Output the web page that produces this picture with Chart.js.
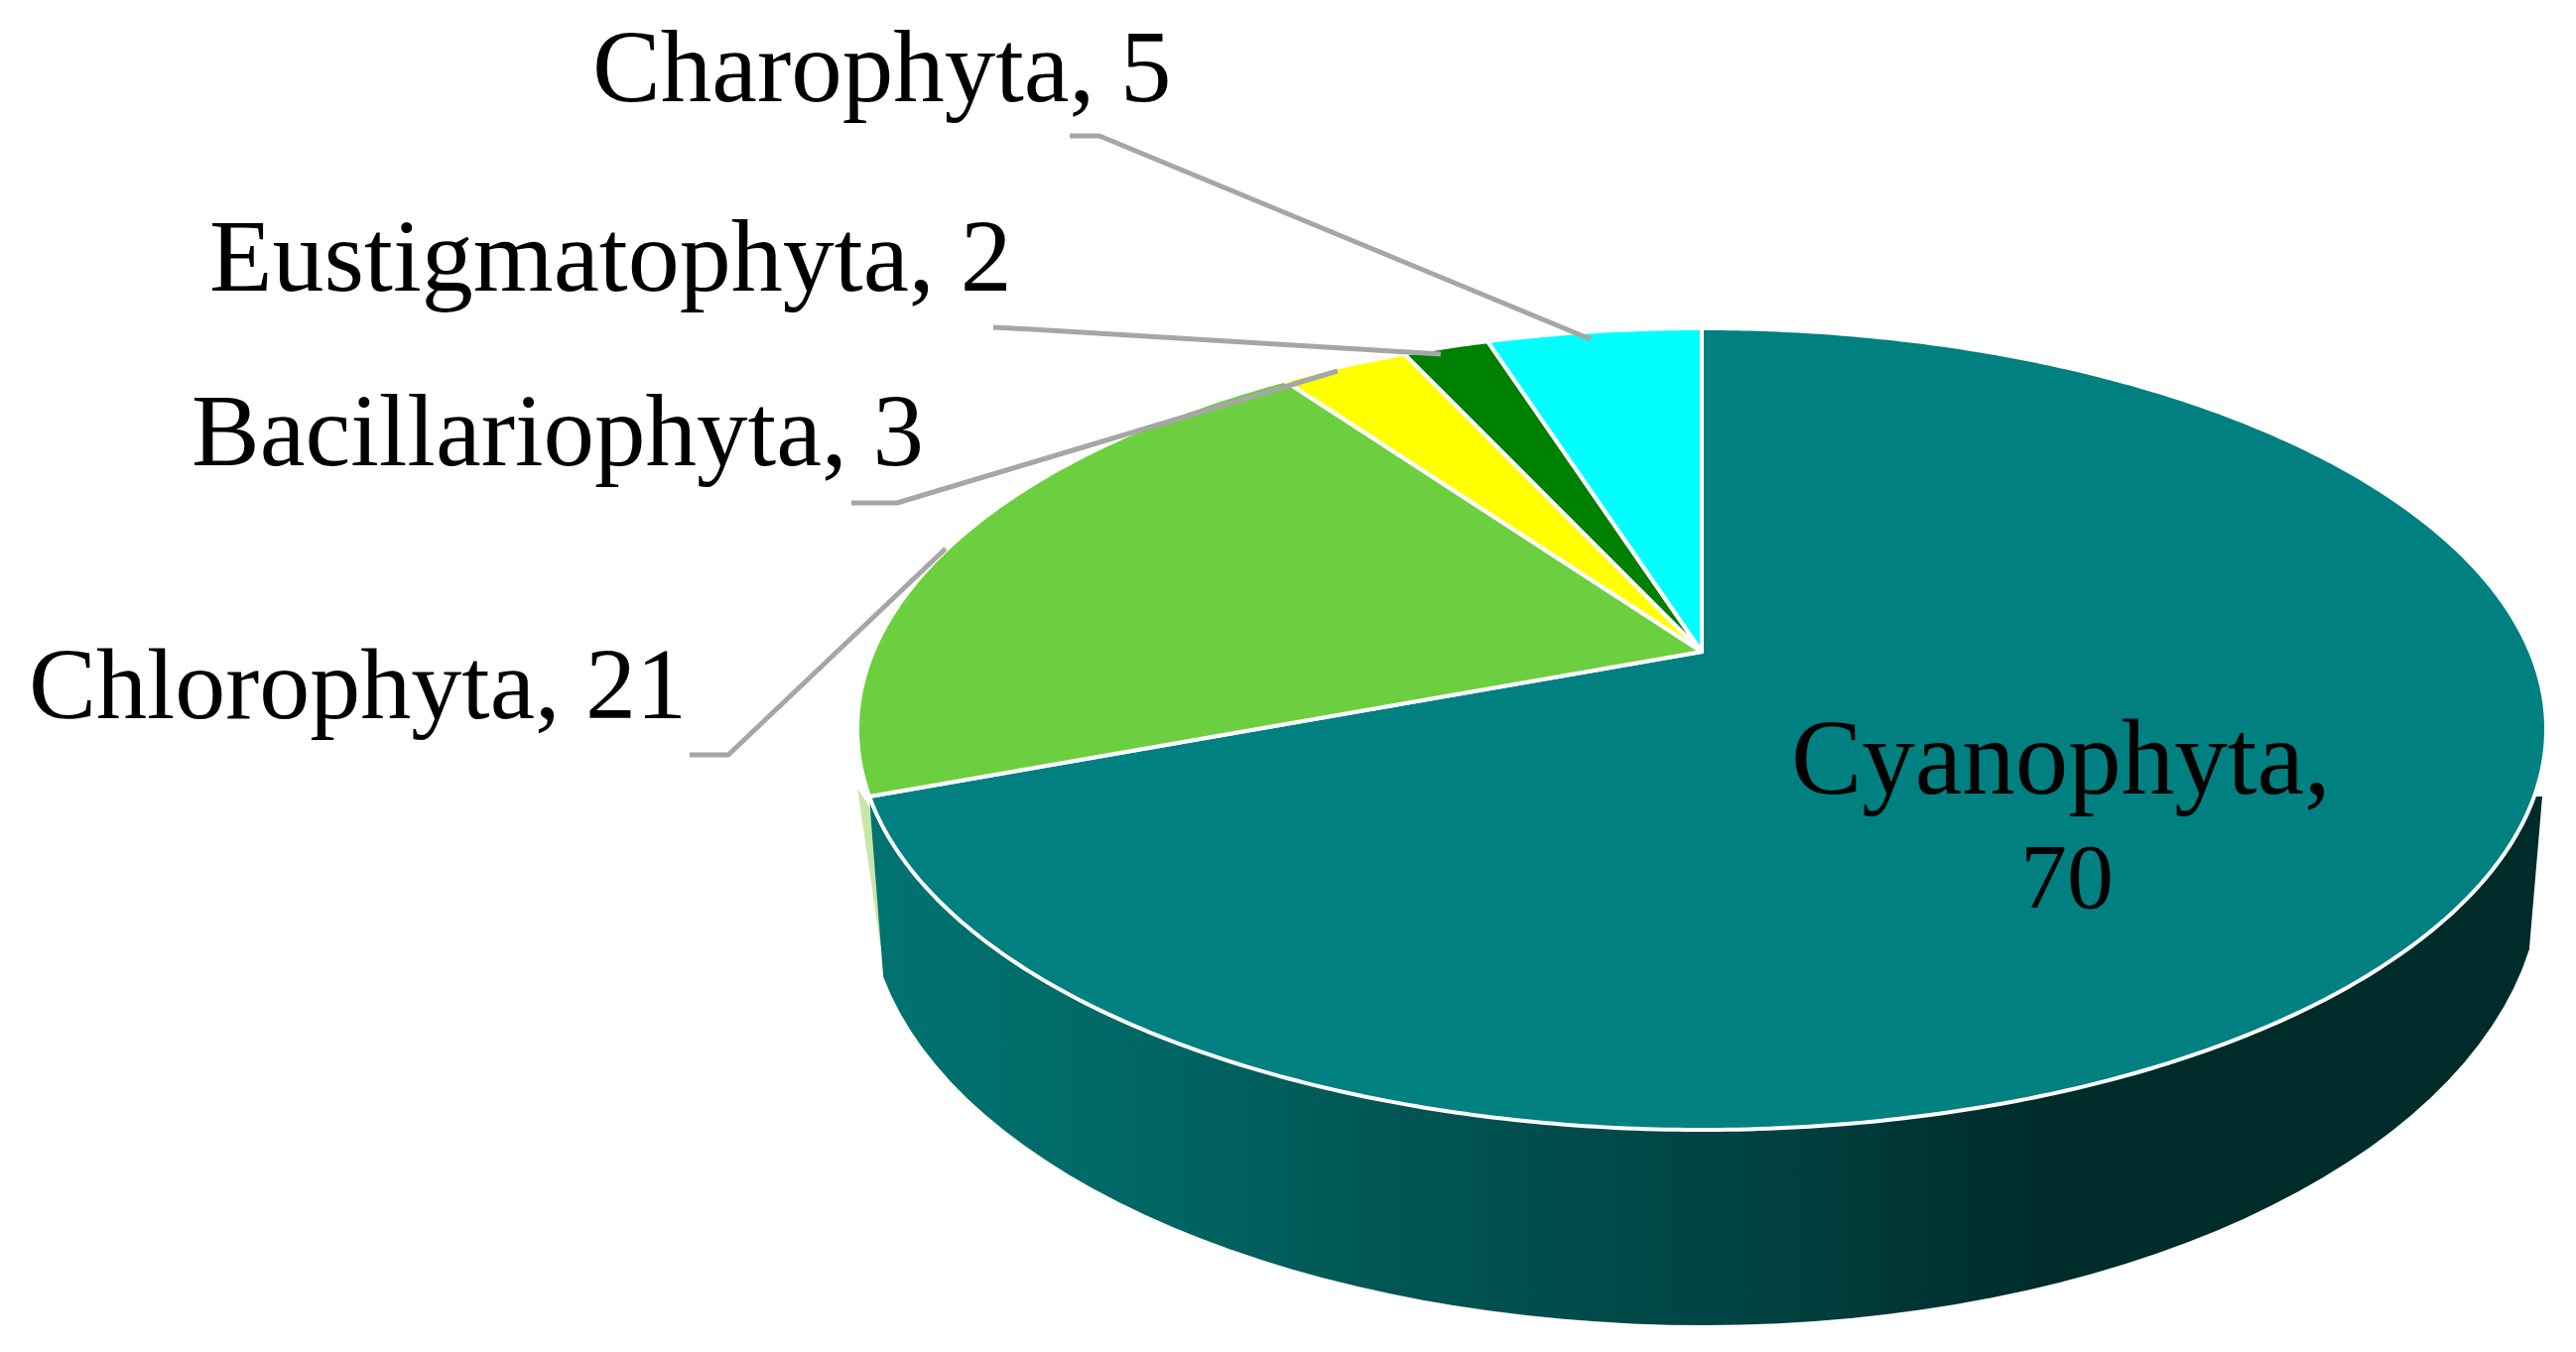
<!DOCTYPE html>
<html>
<head>
<meta charset="utf-8">
<title>Phyla</title>
<script src="https://cdn.jsdelivr.net/npm/chart.js@4"></script>
<style>
  html, body { margin: 0; padding: 0; background: #fff; }
  canvas { display: block; }
</style>
</head>
<body>
<canvas id="pie" width="2596" height="1363"></canvas>
<script>
const categories = ["Cyanophyta", "Chlorophyta", "Bacillariophyta", "Eustigmatophyta", "Charophyta"];
const seriesValues = [70, 21, 3, 2, 5];
const sliceColors = ["#008080", "#6ccf3f", "#ffff00", "#008000", "#00ffff"];

// where each label text sits, [x, baseline], and its size
const labelSpots = [[1805, 800], [29, 724], [193, 469], [211, 293], [597, 102]];
const labelSizes = [107, 102, 103, 104, 103];
// leader lines, [start, elbow, tip]; the big slice has none
const leaderLines = [
  null,
  [[695, 761], [734, 761], [953, 553]],
  [[858, 507], [904, 507], [1348, 374]],
  [[1001, 330], [1040, 332], [1452, 357]],
  [[1078, 137], [1108, 137], [1603, 342]]
];

// the flat pie seen in perspective: apex is off the ellipse centre like in the picture
const TILT_X = 835, TILT_Y = 389, TILT_K = 0.193;

function project(arc, angle) {
  const u = Math.cos(angle), v = -Math.sin(angle);
  const w = 1 + TILT_K * v;
  return [arc.x + TILT_X * u / w, arc.y - TILT_Y * v / w];
}

// arcs keep the angles worked out by the doughnut controller, only the outline is projected
Chart.ArcElement.prototype.draw = function (ctx) {
  const o = this.options;
  const steps = Math.max(2, Math.ceil((this.endAngle - this.startAngle) / 0.01));
  ctx.save();
  ctx.beginPath();
  ctx.moveTo(this.x, this.y);
  for (let i = 0; i <= steps; i++) {
    const p = project(this, this.startAngle + (this.endAngle - this.startAngle) * i / steps);
    ctx.lineTo(p[0], p[1]);
  }
  ctx.closePath();
  ctx.fillStyle = o.backgroundColor;
  ctx.fill();
  ctx.lineJoin = "round";
  ctx.lineWidth = o.borderWidth;
  ctx.strokeStyle = o.borderColor;
  ctx.stroke();
  ctx.restore();
};

const sideWall = {
  id: "sideWall",
  beforeDatasetsDraw(chart) {
    const ctx = chart.ctx;
    const arcs = chart.getDatasetMeta(0).data;
    const cut = project(arcs[0], arcs[0].endAngle);
    const cx = 1718, rx = 843;

    // thin pale edge of the neighbour slice showing behind the wall
    ctx.save();
    ctx.beginPath();
    ctx.moveTo(cut[0] - 12, cut[1] - 8);
    ctx.lineTo(cut[0] + 6, cut[1] + 20);
    ctx.lineTo(cut[0] + 18, cut[1] + 155);
    ctx.lineTo(cut[0] + 11, cut[1] + 150);
    ctx.closePath();
    ctx.fillStyle = "#c8e6a8";
    ctx.fill();

    const g = ctx.createLinearGradient(875, 0, 2566, 0);
    g.addColorStop(0, "#007371");
    g.addColorStop(0.13, "#006a68");
    g.addColorStop(0.31, "#005654");
    g.addColorStop(0.55, "#00403f");
    g.addColorStop(0.70, "#002b2b");
    g.addColorStop(1, "#002b2b");

    ctx.beginPath();
    ctx.moveTo(cut[0], cut[1]);
    ctx.lineTo(878, 830);
    ctx.ellipse(cx, 903, rx, 433, 0, Math.PI - 0.19, Math.PI / 2, true);
    ctx.ellipse(cx, 880, rx, 456, 0, Math.PI / 2, 0.17, true);
    ctx.lineTo(2562, 803);
    ctx.closePath();
    ctx.fillStyle = g;
    ctx.fill();
    ctx.restore();
  }
};

const phylumLabels = {
  id: "phylumLabels",
  afterDatasetsDraw(chart) {
    const ctx = chart.ctx;
    ctx.save();
    ctx.strokeStyle = "#a6a6a6";
    ctx.lineWidth = 5;
    ctx.lineJoin = "round";
    leaderLines.forEach(l => {
      if (!l) return;
      ctx.beginPath();
      ctx.moveTo(l[0][0], l[0][1]);
      ctx.lineTo(l[1][0], l[1][1]);
      ctx.lineTo(l[2][0], l[2][1]);
      ctx.stroke();
    });

    ctx.fillStyle = "#000";
    ctx.textAlign = "left";
    ctx.textBaseline = "alphabetic";
    categories.forEach((c, i) => {
      const v = seriesValues[i];
      ctx.font = labelSizes[i] + 'px "Liberation Serif"';
      if (i === 0) {
        // big slice carries its label inside, value on a second line
        ctx.fillText(c + ",", labelSpots[i][0], labelSpots[i][1]);
        ctx.font = '94px "Liberation Serif"';
        ctx.fillText(String(v), 2036, 915);
      } else {
        ctx.fillText(c + ", " + v, labelSpots[i][0], labelSpots[i][1]);
      }
    });
    ctx.restore();
  }
};

new Chart(document.getElementById("pie"), {
  type: "pie",
  data: {
    labels: categories,
    datasets: [{
      data: seriesValues,
      backgroundColor: sliceColors,
      borderColor: "#ffffff",
      borderWidth: 4
    }]
  },
  options: {
    responsive: false,
    animation: false,
    // puts the pie centre on the apex of the picture
    layout: { padding: { left: 834, bottom: 49 } },
    plugins: { legend: { display: false }, tooltip: { enabled: false } }
  },
  plugins: [sideWall, phylumLabels]
});
</script>
</body>
</html>
